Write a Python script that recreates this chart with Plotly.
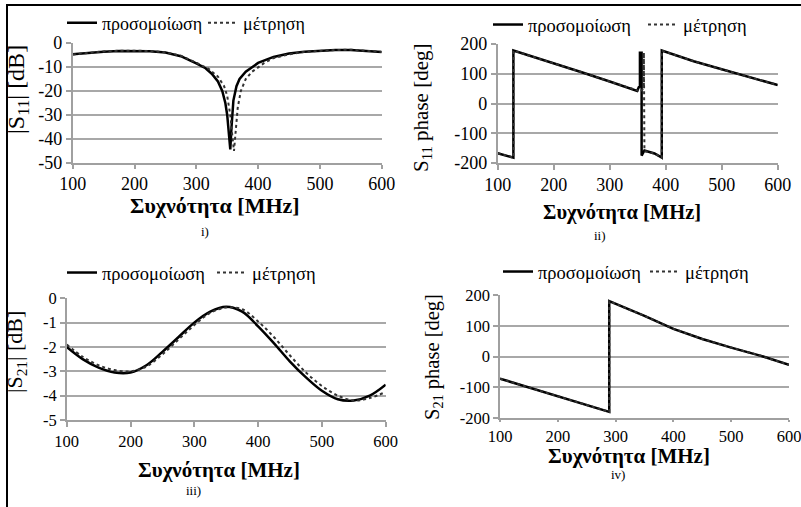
import plotly.graph_objects as go

# ---------------- data ----------------
# Panel i: |S11| [dB]
f11_sim = [100, 125, 150, 175, 200, 225, 250, 275, 300, 315, 325, 335, 342, 347, 350, 352, 354, 355, 357, 360, 365, 370, 380, 390, 400, 425, 450, 475, 500, 525, 550, 575, 600]
s11_sim = [-4.7, -4.0, -3.6, -3.3, -3.2, -3.4, -4.0, -5.5, -8.5, -10.5, -12.8, -16, -20, -25, -30, -36, -42, -44.3, -35, -24, -18, -15, -12, -10, -8.3, -5.8, -4.4, -3.6, -3.2, -2.9, -2.9, -3.2, -3.8]
f11_meas = [100, 125, 150, 175, 200, 225, 250, 275, 300, 320, 335, 345, 350, 355, 358, 361, 364, 367, 372, 380, 390, 400, 410, 425, 450, 475, 500, 525, 550, 575, 600]
s11_meas = [-4.8, -4.0, -3.5, -3.2, -3.1, -3.3, -3.9, -5.3, -8.2, -10.8, -14, -18, -22, -30, -38, -45, -36, -27, -20, -15, -12, -10, -8.3, -6.3, -4.7, -3.7, -3.2, -2.9, -2.8, -3.1, -3.7]

# Panel ii: S11 phase [deg]
fp11_sim = [100, 128, 128, 200, 250, 300, 349, 352, 354, 354, 357, 357, 362, 380, 393, 393, 450, 500, 550, 600]
p11_sim = [-167, -182, 178, 136, 105, 74, 42, 55, 57, 171, 171, -175, -158, -168, -182, 178, 142, 115, 88, 62]
fp11_meas = [100, 128, 128, 200, 250, 300, 349, 356, 361, 361, 362, 362, 380, 393, 393, 450, 500, 550, 600]
p11_meas = [-167, -182, 178, 136, 105, 74, 42, 40, 55, 171, 171, -160, -168, -182, 178, 142, 115, 88, 62]

# Panel iii: |S21| [dB]
f21 = [100, 125, 150, 175, 200, 225, 250, 275, 300, 325, 350, 375, 400, 425, 450, 475, 500, 525, 550, 575, 600]
s21_sim = [-2.0, -2.5, -2.85, -3.05, -3.05, -2.75, -2.2, -1.6, -1.0, -0.55, -0.35, -0.55, -1.15, -1.85, -2.6, -3.25, -3.8, -4.15, -4.2, -4.0, -3.55]
s21_meas = [-1.9, -2.4, -2.75, -2.95, -3.0, -2.8, -2.3, -1.7, -1.1, -0.6, -0.38, -0.45, -0.95, -1.6, -2.35, -3.05, -3.6, -4.0, -4.2, -4.1, -3.85]

# Panel iv: S21 phase [deg]
fp21 = [100, 150, 200, 250, 289, 289, 350, 400, 450, 500, 550, 600]
p21_sim = [-72, -100, -128, -157, -180, 180, 132, 90, 57, 29, 3, -27]
p21_meas = [-72, -100, -128, -157, -180, 180, 132, 90, 57, 29, 3, -27]

freq_ticks = [100, 200, 300, 400, 500, 600]
s11_ticks = [0, -10, -20, -30, -40, -50]
s11_ticklabels = ["0", "-10", "-20", "-30", "-40", "-50"]
phase_ticks = [200, 100, 0, -100, -200]
phase_ticklabels = ["200", "100", "0", "-100", "-200"]
s21_ticks = [0, -1, -2, -3, -4, -5]
s21_ticklabels = ["0", "-1", "-2", "-3", "-4", "-5"]

sim_name = "προσομοίωση"
meas_name = "μέτρηση"

W, H = 801, 507
FONT = "Liberation Serif"

def px(x):
    return x / W

def py(y):
    return 1 - y / H

fig = go.Figure()

panels = [
    (f11_sim, s11_sim, f11_meas, s11_meas, "x", "y", "legend", "linear"),
    (fp11_sim, p11_sim, fp11_meas, p11_meas, "x2", "y2", "legend2", "linear"),
    (f21, s21_sim, f21, s21_meas, "x3", "y3", "legend3", "spline"),
    (fp21, p21_sim, fp21, p21_meas, "x4", "y4", "legend4", "linear"),
]
for fs, vs, fm, vm, xa, ya, lg, shp in panels:
    fig.add_trace(go.Scatter(x=fs, y=vs, mode="lines", name=sim_name,
                             line=dict(color="black", width=2.5, shape=shp),
                             xaxis=xa, yaxis=ya, legend=lg))
    fig.add_trace(go.Scatter(x=fm, y=vm, mode="lines", name=meas_name,
                             line=dict(color="#333333", width=2, dash="dot", shape=shp),
                             xaxis=xa, yaxis=ya, legend=lg))

# panel geometry (pixels)
geo = {
    1: dict(x0=72.7, x1=381.7, y0=43, y1=163),
    2: dict(x0=497.7, x1=777.7, y0=44, y1=163),
    3: dict(x0=66.7, x1=385.7, y0=298.3, y1=420),
    4: dict(x0=500, x1=789, y0=295, y1=418),
}
yranges = {1: ([-50, 0], s11_ticks, s11_ticklabels),
           2: ([-200, 200], phase_ticks, phase_ticklabels),
           3: ([-5, 0], s21_ticks, s21_ticklabels),
           4: ([-200, 200], phase_ticks, phase_ticklabels)}
tfs = {1: 18, 2: 18, 3: 16.5, 4: 16.5}
xticklen = {1: 4, 2: 5, 3: 5, 4: 2}

layout = {}
for i in range(1, 5):
    g = geo[i]
    sx = "" if i == 1 else str(i)
    yr, tv, tt = yranges[i]
    layout["xaxis" + sx] = dict(
        domain=[px(g["x0"]), px(g["x1"])], anchor="y" + sx, automargin=False,
        range=[100, 600], tickvals=freq_ticks, showgrid=False, zeroline=False,
        showline=True, linecolor="#a0a0a0", linewidth=1.5, ticklabeloverflow="allow",
        ticks="outside", ticklen=xticklen[i], tickcolor="#a0a0a0", tickwidth=1.5,
        tickfont=dict(family=FONT, size=tfs[i], color="black"), fixedrange=True)
    layout["yaxis" + sx] = dict(
        domain=[py(g["y1"]), py(g["y0"])], anchor="x" + sx, automargin=False,
        range=yr, tickvals=tv, ticktext=tt, showgrid=True, gridcolor="#a8a8a8",
        gridwidth=1.5, zeroline=False, showline=True, linecolor="#a0a0a0",
        linewidth=1.5, ticks="outside", ticklen=5, tickcolor="#a0a0a0", tickwidth=1.5,
        tickfont=dict(family=FONT, size=tfs[i], color="black"), fixedrange=True)

# legend: left x (px), centre y (px), font size, entry width (px)
legend_pos = {1: (62, 23, 18, 96), 2: (488, 25, 18.5, 110),
              3: (62, 273, 18.5, 105), 4: (498, 272, 18.5, 102)}
for i in range(1, 5):
    lx, ly, lfs, ew = legend_pos[i]
    key = "legend" if i == 1 else "legend" + str(i)
    layout[key] = dict(x=px(lx), y=py(ly), xanchor="left", yanchor="middle",
                       orientation="h", bgcolor="rgba(0,0,0,0)",
                       font=dict(family=FONT, size=lfs, color="black"),
                       itemwidth=30, tracegroupgap=0,
                       entrywidthmode="pixels", entrywidth=ew)

annotations = []
ytitles = [
    ("|S<sub>11</sub>| [dB]", 18, 90, 24),
    ("S<sub>11</sub> phase [deg]", 422, 108, 21),
    ("|S<sub>21</sub>| [dB]", 16, 352, 22),
    ("S<sub>21</sub> phase [deg]", 433, 357, 20.5),
]
for t, x, y, s in ytitles:
    annotations.append(dict(text=t, x=px(x), y=py(y), xref="paper", yref="paper",
                            showarrow=False, textangle=-90, xanchor="center", yanchor="middle",
                            font=dict(family=FONT, size=s, color="black")))
xtitles = [
    (215, 205, 22, "i)", 205, 231),
    (622, 213, 20.5, "ii)", 600, 236),
    (219, 470, 21, "iii)", 193, 490),
    (629, 456, 21, "iv)", 618, 474),
]
for x, y, s, lab, lx, ly in xtitles:
    annotations.append(dict(text="<b>Συχνότητα [MHz]</b>", x=px(x), y=py(y), xref="paper", yref="paper",
                            showarrow=False, xanchor="center", yanchor="middle",
                            font=dict(family=FONT, size=s, color="black")))
    annotations.append(dict(text=lab, x=px(lx), y=py(ly), xref="paper", yref="paper",
                            showarrow=False, xanchor="center", yanchor="middle",
                            font=dict(family=FONT, size=13, color="black")))

shapes = [dict(type="path", xref="paper", yref="paper",
               path=f"M 1.01 {py(5)} L {px(7)} {py(5)} L {px(7)} -0.01",
               line=dict(color="black", width=2))]

fig.update_layout(width=W, height=H, margin=dict(l=0, r=0, t=0, b=0, pad=0, autoexpand=False),
                  font=dict(family=FONT),
                  paper_bgcolor="white", plot_bgcolor="white",
                  annotations=annotations, shapes=shapes, **layout)

fig.write_html("out.html")
